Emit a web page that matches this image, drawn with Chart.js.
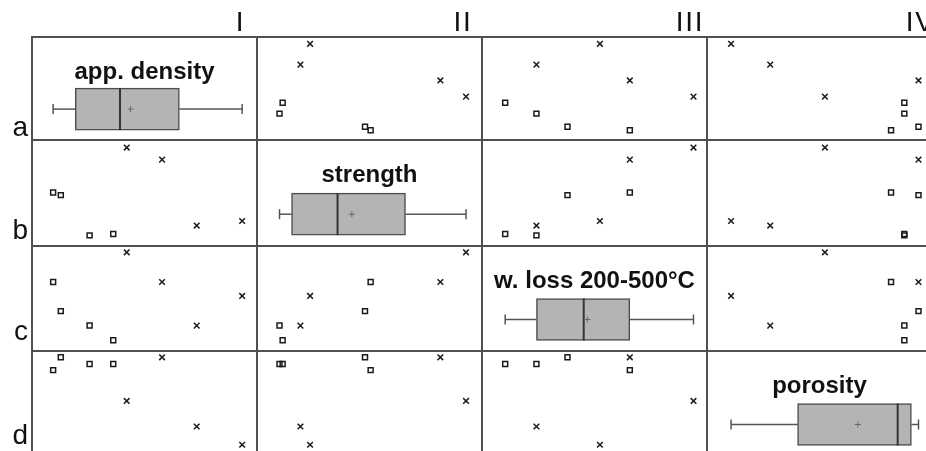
<!DOCTYPE html>
<html>
<head>
<meta charset="utf-8">
<script src="https://cdn.jsdelivr.net/npm/chart.js@4.4.1/dist/chart.umd.min.js"></script>
<style>
  body { margin: 0; background: #fff; }
  #wrap { position: relative; width: 926px; height: 451px; overflow: hidden; font-family: "Liberation Sans", Arial, sans-serif; color: #111; }
  #wrap canvas { position: absolute; }
  .line { position: absolute; background: #505050; }
  .lbl { position: absolute; line-height: 0; white-space: nowrap; }
</style>
</head>
<body>
<div id="wrap"></div>
<script>
const variables = ['app. density', 'strength', 'w. loss 200-500°C', 'porosity'];
const rowLabels = ['a', 'b', 'c', 'd'];
const colLabels = ['I', 'II', 'III', 'IV'];

// 8 samples: first four drawn as crosses, last four as open squares
const sampleGroup = ['cross', 'cross', 'cross', 'cross', 'square', 'square', 'square', 'square'];
// values on a relative scale (0 = lower edge of the panel, 1 = upper edge)
const appDensity = [0.934, 0.732, 0.578, 0.421, 0.361, 0.256, 0.128, 0.094];
const strength   = [0.236, 0.193, 0.815, 0.929, 0.114, 0.100, 0.480, 0.505];
const wLoss      = [0.524, 0.242, 0.657, 0.940, 0.103, 0.242, 0.380, 0.657];
const porosity   = [0.107, 0.281, 0.940, 0.524, 0.877, 0.877, 0.940, 0.818];
const values = [appDensity, strength, wLoss, porosity];

// panel edges in page pixels (last column / row run past the window)
const xEdges = [32, 257, 482, 707, 932];
const yEdges = [37, 140, 246, 351, 456];
const boxLevel = 0.3;

const wrap = document.getElementById('wrap');

function fivenum(arr) {
  const s = [...arr].sort((a, b) => a - b);
  const n = s.length;
  const n4 = Math.floor((n + 3) / 2) / 2;
  const d = [1, n4, (n + 1) / 2, n + 1 - n4, n];
  return d.map(k => 0.5 * (s[Math.floor(k) - 1] + s[Math.ceil(k) - 1]));
}

function axis() {
  return { type: 'linear', min: 0, max: 1, display: false, offset: false, grid: { offset: false } };
}

function baseOptions(extra) {
  return Object.assign({
    responsive: false,
    animation: false,
    events: [],
    devicePixelRatio: 1,
    layout: { padding: 0, autoPadding: false },
    plugins: { legend: { display: false }, tooltip: { enabled: false }, title: { display: false } },
    scales: { x: axis(), y: axis() }
  }, extra || {});
}

function addCanvas(r, c) {
  const cv = document.createElement('canvas');
  const w = xEdges[c + 1] - xEdges[c];
  const h = yEdges[r + 1] - yEdges[r];
  cv.width = w; cv.height = h;
  cv.style.left = xEdges[c] + 'px';
  cv.style.top = yEdges[r] + 'px';
  cv.style.width = w + 'px';
  cv.style.height = h + 'px';
  wrap.appendChild(cv);
  return cv;
}

function addText(txt, left, baseline, size, weight, width, align, spacing) {
  const d = document.createElement('div');
  d.className = 'lbl';
  d.textContent = txt;
  d.style.fontSize = size + 'px';
  d.style.fontWeight = weight;
  d.style.left = left + 'px';
  d.style.top = (baseline - 0.3465 * size) + 'px';
  if (width) { d.style.width = width + 'px'; d.style.textAlign = align; }
  if (spacing) d.style.letterSpacing = spacing + 'px';
  wrap.appendChild(d);
}

function scatterCell(r, c) {
  const xs = values[c], ys = values[r];
  const crosses = [], squares = [];
  xs.forEach((x, i) => {
    (sampleGroup[i] === 'cross' ? crosses : squares).push({ x: x, y: ys[i] });
  });
  new Chart(addCanvas(r, c), {
    type: 'scatter',
    data: {
      datasets: [
        { data: crosses, pointStyle: 'crossRot', pointRadius: 4, pointBorderColor: '#1a1a1a', pointBorderWidth: 1.5 },
        { data: squares, pointStyle: 'rect', pointRadius: 3.5, pointBackgroundColor: 'rgba(0,0,0,0)', pointBorderColor: '#1a1a1a', pointBorderWidth: 1.5 }
      ]
    },
    options: baseOptions()
  });
}

function boxCell(i) {
  const v = values[i];
  const [mn, q1, med, q3, mx] = fivenum(v);
  const mean = v.reduce((a, b) => a + b, 0) / v.length;
  // lower "order" is drawn on top
  new Chart(addCanvas(i, i), {
    type: 'bar',
    data: {
      datasets: [
        { type: 'scatter', order: 1, data: [{ x: mean, y: boxLevel }], pointStyle: 'cross', pointRadius: 3, pointBorderColor: '#666', pointBorderWidth: 1 },
        { type: 'scatter', order: 1, data: [{ x: med, y: boxLevel }], pointStyle: 'line', pointRotation: 90, pointRadius: 21, pointBorderColor: '#333', pointBorderWidth: 2 },
        { type: 'bar', order: 2, data: [{ x: [q1, q3], y: boxLevel }], backgroundColor: '#b4b4b4', borderColor: '#4d4d4d', borderWidth: 1.5, borderSkipped: false, barThickness: 42 },
        { type: 'line', order: 3, data: [{ x: mn, y: boxLevel }, { x: q1, y: boxLevel }], borderColor: '#555', borderWidth: 1.5, pointRadius: 0 },
        { type: 'line', order: 3, data: [{ x: q3, y: boxLevel }, { x: mx, y: boxLevel }], borderColor: '#555', borderWidth: 1.5, pointRadius: 0 },
        { type: 'scatter', order: 3, data: [{ x: mn, y: boxLevel }, { x: mx, y: boxLevel }], pointStyle: 'line', pointRotation: 90, pointRadius: 5, pointBorderColor: '#555', pointBorderWidth: 1.5 }
      ]
    },
    options: baseOptions({ indexAxis: 'y' })
  });
  const w = xEdges[i + 1] - xEdges[i];
  addText(variables[i], xEdges[i], yEdges[i] + 42.5, 24, 'bold', w, 'center');
}

for (let r = 0; r < 4; r++) {
  for (let c = 0; c < 4; c++) {
    if (r === c) boxCell(r); else scatterCell(r, c);
  }
}

// panel frame
for (let k = 0; k < 5; k++) {
  const vl = document.createElement('div');
  vl.className = 'line';
  vl.style.left = (xEdges[k] - 1) + 'px'; vl.style.top = (yEdges[0] - 1) + 'px';
  vl.style.width = '2px'; vl.style.height = (yEdges[4] - yEdges[0] + 2) + 'px';
  wrap.appendChild(vl);
  const hl = document.createElement('div');
  hl.className = 'line';
  hl.style.left = (xEdges[0] - 1) + 'px'; hl.style.top = (yEdges[k] - 1) + 'px';
  hl.style.height = '2px'; hl.style.width = (xEdges[4] - xEdges[0] + 2) + 'px';
  wrap.appendChild(hl);
}

// column and row labels
const colLabelLeft = [235.7, 453.4, 675.7, 905.7];
colLabels.forEach((t, i) => addText(t, colLabelLeft[i], 31.7, 28, 'normal', 0, '', 1.8));
const rowLabelBase = [137, 240, 340.5, 444.5];
rowLabels.forEach((t, i) => addText(t, 0, rowLabelBase[i], 28, 'normal', 28, 'right'));
</script>
</body>
</html>
